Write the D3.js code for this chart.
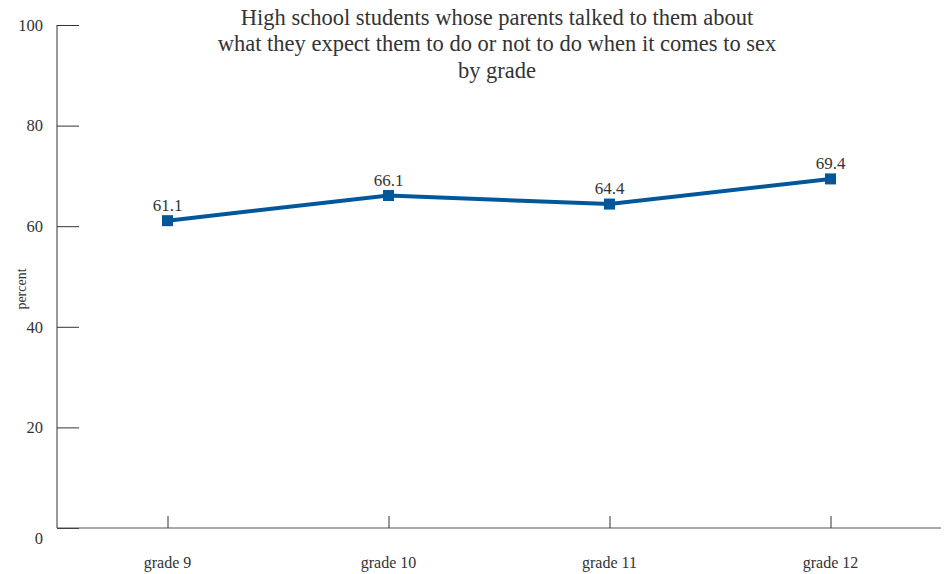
<!DOCTYPE html>
<html><head><meta charset="utf-8">
<script src="https://cdn.jsdelivr.net/npm/d3@7"></script>
<style>body{margin:0;background:#fff}svg{display:block}</style>
</head><body><svg id="c" width="948" height="574"></svg>
<script>
const categories = ["grade 9","grade 10","grade 11","grade 12"];
const values = [61.1, 66.1, 64.4, 69.4];
const yTicks = [0,20,40,60,80,100];
const titleLines = ["High school students whose parents talked to them about","what they expect them to do or not to do when it comes to sex","by grade"];

(function(){
const svg = d3.select("#c");
const font = "'Liberation Serif', 'DejaVu Serif', serif";
const textCol = "#333";
const lineCol = "#00589b";
const pLeft = 57, pRight = 941, pTop = 25, pBottom = 528;

const x = d3.scalePoint().domain(categories).range([pLeft, pRight]).padding(0.5);
const y = d3.scaleLinear().domain([0,100]).range([pBottom, pTop]);

// Y axis
const ya = svg.append("g").attr("transform",`translate(${pLeft},0)`)
  .call(d3.axisRight(y).tickValues(yTicks).tickSize(22).tickFormat(""));
ya.select(".domain").attr("stroke","#333").attr("d",`M0,${pTop}V${pBottom}`);
ya.selectAll(".tick line").attr("stroke","#333");
svg.append("g").selectAll("text").data(yTicks).join("text")
  .attr("x", 43).attr("y", d => y(d) + (d===0 ? 10 : 0)).attr("dy","0.35em")
  .attr("text-anchor","end").attr("font-family",font).attr("font-size",16.5).attr("fill",textCol)
  .text(d => d);

// X axis
const xa = svg.append("g").attr("transform",`translate(0,${pBottom})`)
  .call(d3.axisTop(x).tickSize(12).tickFormat(""));
xa.select(".domain").attr("stroke","#555").attr("d",`M${pLeft},0H${pRight}`);
xa.selectAll(".tick line").attr("stroke","#333");
svg.append("g").selectAll("text").data(categories).join("text")
  .attr("x", d => x(d)).attr("y", 562).attr("dy","0.35em")
  .attr("text-anchor","middle").attr("font-family",font).attr("font-size",16).attr("fill",textCol)
  .text(d => d);

// y label
svg.append("text").attr("transform","translate(21,289) rotate(-90)")
  .attr("text-anchor","middle").attr("dy","0.35em")
  .attr("font-family",font).attr("font-size",14).attr("fill",textCol).text("percent");

// Title
svg.append("g").selectAll("text").data(titleLines).join("text")
  .attr("x", 497).attr("y", (d,i) => 17 + i*26.5).attr("dy","0.35em")
  .attr("text-anchor","middle").attr("font-family",font).attr("font-size",22.5).attr("fill",textCol)
  .text(d => d);

// Line
const data = categories.map((c,i) => ({c, v: values[i]}));
svg.append("path").datum(data)
  .attr("fill","none").attr("stroke",lineCol).attr("stroke-width",4)
  .attr("d", d3.line().x(d => x(d.c)).y(d => y(d.v)));
svg.append("g").selectAll("rect").data(data).join("rect")
  .attr("x", d => x(d.c) - 5.5).attr("y", d => y(d.v) - 5.5)
  .attr("width",11).attr("height",11).attr("fill",lineCol);
svg.append("g").selectAll("text").data(data).join("text")
  .attr("x", d => x(d.c)).attr("y", d => y(d.v) - 10)
  .attr("text-anchor","middle").attr("font-family",font).attr("font-size",17).attr("fill",textCol)
  .text(d => d.v.toFixed(1));
})();
</script></body></html>
